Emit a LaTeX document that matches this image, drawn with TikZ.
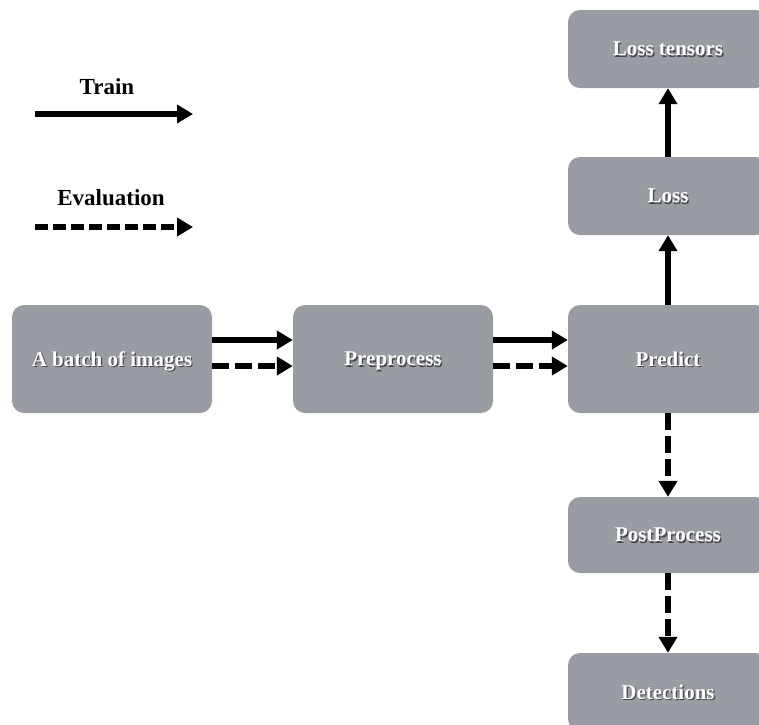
\documentclass[tikz,border=0pt]{standalone}
\usepackage{fontspec}
\setmainfont{Liberation Serif}
\usetikzlibrary{arrows.meta}
\definecolor{boxgray}{RGB}{154,156,163}
\definecolor{shadowgray}{RGB}{70,70,74}
\newcommand\shadowed[1]{\leavevmode\rlap{\kern1.2pt\raisebox{-1.2pt}{\color{shadowgray}#1}}{\color{white}#1}}
\tikzset{
  stage/.style={draw=none, fill=boxgray, rounded corners=12pt, minimum width=200pt,
    font=\fontsize{21}{24}\selectfont\bfseries, inner sep=0pt, text depth=0pt},
  midbox/.style={stage, minimum height=108pt},
  colbox/.style={stage, minimum height=78pt},
  flow/.style={line width=5.5pt, -{Triangle[length=16pt,width=18pt]}},
  trainline/.style={flow},
  evalline/.style={flow, dash pattern=on 17pt off 6pt},
  legendeval/.style={flow, dash pattern=on 13pt off 5pt},
  legendtext/.style={font=\fontsize{23}{26}\selectfont\bfseries, inner sep=0pt}
}
\begin{document}
\begin{tikzpicture}[x=1pt, y=-1pt]
\useasboundingbox (0,0) rectangle (759,724);

% legend
\node[legendtext] (trainlbl) at (107,87) {Train};
\coordinate (trainA) at (35,114);
\coordinate (trainB) at (193,114);
\draw[trainline] (trainA) -- (trainB);
\node[legendtext] (evallbl) at (111,198) {Evaluation};
\coordinate (evalA) at (35,227);
\coordinate (evalB) at (193,227);
\draw[legendeval] (evalA) -- (evalB);

% main row
\node[midbox] (batch) at (112,359) {\shadowed{A batch of images}};
\node[midbox] (prep) at (393,359) {\shadowed{Preprocess}};
\node[midbox] (pred) at (668,359) {\shadowed{Predict}};

% right column
\node[colbox] (losst) at (668,49) {\shadowed{Loss tensors}};
\node[colbox] (loss) at (668,196) {\shadowed{Loss}};
\node[colbox, minimum height=76pt] (post) at (668,535) {\shadowed{PostProcess}};
\node[colbox] (det) at (668,692) {\shadowed{Detections}};

% training path
\draw[trainline] ([yshift=19pt]batch.east) -- ([yshift=19pt]prep.west);
\draw[trainline] ([yshift=19pt]prep.east) -- ([yshift=19pt]pred.west);
\draw[trainline] (pred.north) -- (loss.south);
\draw[trainline] (loss.north) -- (losst.south);

% evaluation path
\draw[evalline] ([yshift=-7pt]batch.east) -- ([yshift=-7pt]prep.west);
\draw[evalline] ([yshift=-7pt]prep.east) -- ([yshift=-7pt]pred.west);
\draw[evalline] (pred.south) -- (post.north);
\draw[evalline] (post.south) -- (det.north);
\end{tikzpicture}
\end{document}
